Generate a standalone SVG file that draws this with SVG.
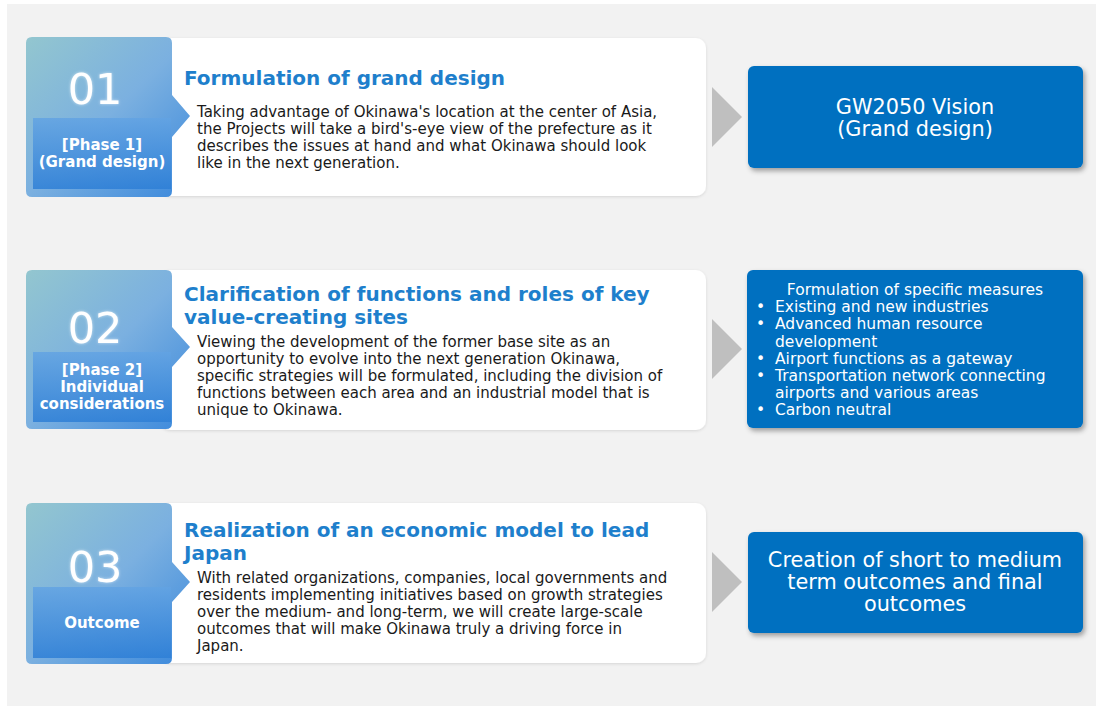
<svg xmlns="http://www.w3.org/2000/svg" width="1096" height="721" viewBox="0 0 1096 721">
<defs>
<linearGradient id="tabGrad" x1="0" y1="0" x2="1" y2="1">
<stop offset="0" stop-color="#93c6cf"/>
<stop offset="0.5" stop-color="#7bb0e0"/>
<stop offset="1" stop-color="#3a88dc"/>
</linearGradient>
<linearGradient id="innerGrad" x1="0" y1="0" x2="0" y2="1">
<stop offset="0" stop-color="#62a3e3"/>
<stop offset="1" stop-color="#2e7fd6"/>
</linearGradient>
<filter id="shadow" x="-10%" y="-10%" width="130%" height="140%">
<feDropShadow dx="2" dy="3" stdDeviation="2.5" flood-color="#000" flood-opacity="0.35"/>
</filter>
<filter id="soft" x="-10%" y="-10%" width="130%" height="130%">
<feDropShadow dx="0" dy="1" stdDeviation="1.5" flood-color="#000" flood-opacity="0.12"/>
</filter>
<filter id="glow" x="-20%" y="-20%" width="140%" height="140%">
<feGaussianBlur in="SourceAlpha" stdDeviation="1.5" result="b"/>
<feFlood flood-color="#ffffff" flood-opacity="0.6"/>
<feComposite in2="b" operator="in" result="g"/>
<feMerge><feMergeNode in="g"/><feMergeNode in="SourceGraphic"/></feMerge>
</filter>
</defs>
<style>
.bg{fill:#f2f2f2}
.card{fill:#ffffff}
.tab{fill:url(#tabGrad)}
.inner{fill:url(#innerGrad);opacity:0.85}
.num{font-family:"DejaVu Sans",Verdana,sans-serif;font-size:43px;fill:#ffffff;text-anchor:middle}
.lbl{font-family:"DejaVu Sans",Verdana,sans-serif;font-size:15px;font-weight:bold;fill:#ffffff;text-anchor:middle}
.ttl{font-family:"DejaVu Sans",Verdana,sans-serif;font-size:20px;font-weight:bold;fill:#1e7fcc}
.body{font-family:"DejaVu Sans",Verdana,sans-serif;font-size:15px;fill:#1a1a1a}
.box{fill:#0070c0}
.bt{font-family:"DejaVu Sans",Verdana,sans-serif;font-size:20.8px;fill:#ffffff;text-anchor:middle}
.lt{font-family:"DejaVu Sans",Verdana,sans-serif;font-size:15.5px;fill:#ffffff}
.arrow{fill:#bfbfbf}
</style>
<rect class="bg" x="7" y="4" width="1089" height="702"/>

<g id="step1">
<rect class="card" x="160" y="38" width="546" height="158" rx="10" filter="url(#soft)"/>
<path class="tab" d="M32,37 H166 Q172,37 172,43 V95 L190,116 L172,137 V191 Q172,197 166,197 H32 Q26,197 26,191 V43 Q26,37 32,37 Z"/>
<rect class="inner" x="33" y="118" width="138" height="71"/>
<text class="num" x="95" y="104" filter="url(#glow)">01</text>
<text class="lbl" x="102" y="150">[Phase 1]</text>
<text class="lbl" x="102" y="167">(Grand design)</text>
<text class="ttl" x="184" y="85">Formulation of grand design</text>
<text class="body" x="197" y="117">Taking advantage of Okinawa's location at the center of Asia,</text>
<text class="body" x="197" y="134">the Projects will take a bird's-eye view of the prefecture as it</text>
<text class="body" x="197" y="151">describes the issues at hand and what Okinawa should look</text>
<text class="body" x="197" y="168">like in the next generation.</text>
</g>

<g id="step2">
<rect class="card" x="160" y="270" width="546" height="160" rx="10" filter="url(#soft)"/>
<path class="tab" d="M32,270 H166 Q172,270 172,276 V327 L190,347 L172,367 V423 Q172,429 166,429 H32 Q26,429 26,423 V276 Q26,270 32,270 Z"/>
<rect class="inner" x="33" y="352" width="138" height="70"/>
<text class="num" x="95" y="343" filter="url(#glow)">02</text>
<text class="lbl" x="102" y="375">[Phase 2]</text>
<text class="lbl" x="102" y="392">Individual</text>
<text class="lbl" x="102" y="409">considerations</text>
<text class="ttl" x="184" y="301">Clarification of functions and roles of key</text>
<text class="ttl" x="184" y="324">value-creating sites</text>
<text class="body" x="197" y="347">Viewing the development of the former base site as an</text>
<text class="body" x="197" y="364">opportunity to evolve into the next generation Okinawa,</text>
<text class="body" x="197" y="381">specific strategies will be formulated, including the division of</text>
<text class="body" x="197" y="398">functions between each area and an industrial model that is</text>
<text class="body" x="197" y="415">unique to Okinawa.</text>
</g>

<g id="step3">
<rect class="card" x="160" y="503" width="546" height="160" rx="10" filter="url(#soft)"/>
<path class="tab" d="M32,503 H166 Q172,503 172,509 V562 L190,582 L172,602 V658 Q172,664 166,664 H32 Q26,664 26,658 V509 Q26,503 32,503 Z"/>
<rect class="inner" x="33" y="587" width="138" height="71"/>
<text class="num" x="95" y="582" filter="url(#glow)">03</text>
<text class="lbl" x="102" y="628">Outcome</text>
<text class="ttl" x="184" y="537">Realization of an economic model to lead</text>
<text class="ttl" x="184" y="560">Japan</text>
<text class="body" x="197" y="583">With related organizations, companies, local governments and</text>
<text class="body" x="197" y="600">residents implementing initiatives based on growth strategies</text>
<text class="body" x="197" y="617">over the medium- and long-term, we will create large-scale</text>
<text class="body" x="197" y="634">outcomes that will make Okinawa truly a driving force in</text>
<text class="body" x="197" y="651">Japan.</text>
</g>

<g id="result1">
<rect class="box" x="748" y="66" width="335" height="102" rx="6" filter="url(#shadow)"/>
<text class="bt" x="915" y="114">GW2050 Vision</text>
<text class="bt" x="915" y="136">(Grand design)</text>
</g>

<g id="result2">
<rect class="box" x="747" y="270" width="336" height="158" rx="6" filter="url(#shadow)"/>
<text class="lt" x="915" y="295" text-anchor="middle">Formulation of specific measures</text>
<text class="lt" x="756" y="312">•</text><text class="lt" x="775" y="312">Existing and new industries</text>
<text class="lt" x="756" y="329">•</text><text class="lt" x="775" y="329">Advanced human resource</text>
<text class="lt" x="775" y="347">development</text>
<text class="lt" x="756" y="364">•</text><text class="lt" x="775" y="364">Airport functions as a gateway</text>
<text class="lt" x="756" y="381">•</text><text class="lt" x="775" y="381">Transportation network connecting</text>
<text class="lt" x="775" y="398">airports and various areas</text>
<text class="lt" x="756" y="415">•</text><text class="lt" x="775" y="415">Carbon neutral</text>
</g>

<g id="result3">
<rect class="box" x="748" y="532" width="335" height="101" rx="6" filter="url(#shadow)"/>
<text class="bt" x="915" y="567">Creation of short to medium</text>
<text class="bt" x="915" y="589">term outcomes and final</text>
<text class="bt" x="915" y="611">outcomes</text>
</g>

<g id="connectors">
<polygon class="arrow" points="712,87 742,117 712,147"/>
<polygon class="arrow" points="712,319 742,349 712,379"/>
<polygon class="arrow" points="712,552 742,582 712,612"/>
</g>
</svg>
